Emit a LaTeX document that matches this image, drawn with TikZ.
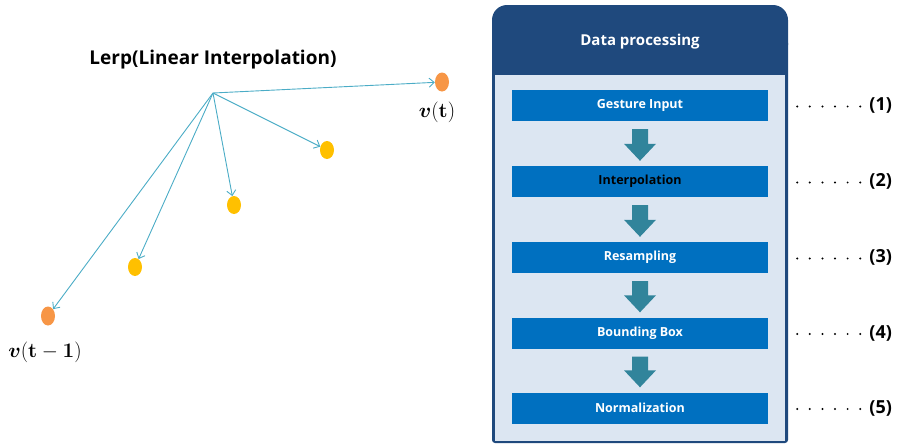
\documentclass[tikz,border=0pt]{standalone}
\usepackage{amsmath}
\usepackage[no-math]{fontspec}
\setmainfont{Open Sans}
\usetikzlibrary{arrows.meta,calc,shapes.geometric}

\definecolor{headblue}{HTML}{1F497D}
\definecolor{paneblue}{HTML}{DCE6F2}
\definecolor{stepblue}{HTML}{0070C0}
\definecolor{flowteal}{HTML}{31849B}
\definecolor{lerpline}{HTML}{4BACC6}
\definecolor{endorange}{HTML}{F79646}
\definecolor{midyellow}{HTML}{FFC000}

\tikzset{
  endpt/.style={ellipse,fill=endorange,minimum width=14pt,minimum height=19pt,inner sep=0pt},
  midpt/.style={ellipse,fill=midyellow,minimum width=14pt,minimum height=18pt,inner sep=0pt},
  lerp/.style={draw=lerpline,line width=0.9pt,-{Straight Barb[length=5pt,width=9pt,line width=0.9pt]}},
  mathlbl/.style={font=\fontsize{20}{24}\selectfont},
  stepbox/.style={fill=stepblue,minimum width=256pt,minimum height=31pt,inner sep=0pt,
                  text=white,font=\fontsize{12.5}{14}\selectfont\bfseries},
  leader/.style={draw=black,line width=2.2pt,line cap=round,dash pattern=on 0pt off 12.6pt},
  numlbl/.style={font=\fontsize{18}{21}\selectfont\bfseries,anchor=west,inner sep=0pt},
}

\newcommand{\flowarrow}[2]{%
  \fill[flowteal] ($(#1.south)+(-8,8)$) -- ($(#1.south)+(8,8)$) --
    ($(#2.north)+(8,-22)$) -- ($(#2.north)+(16,-22)$) -- ($(#2.north)+(0,-5)$) --
    ($(#2.north)+(-16,-22)$) -- ($(#2.north)+(-8,-22)$) -- cycle;}

\begin{document}
\begin{tikzpicture}[x=1pt,y=-1pt]
\useasboundingbox (0,0) rectangle (900,445);

% ---- linear interpolation sketch ----
\node[font=\fontsize{19}{22}\selectfont\bfseries] (title) at (213,60) {Lerp(Linear Interpolation)};
\coordinate (o) at (213,93);
\node[endpt] (vt)  at (442,82) {};
\node[midpt] (p1)  at (327,150) {};
\node[midpt] (p2)  at (234,205) {};
\node[midpt] (p3)  at (135,267) {};
\node[endpt] (vt1) at (48,316) {};
\draw[lerp] (o) -- (vt);
\draw[lerp] (o) -- (p1);
\draw[lerp] (o) -- (p2);
\draw[lerp] (o) -- (p3);
\draw[lerp] (o) -- (vt1);
\node[mathlbl] (lvt)  at (437,112) {$\boldsymbol{v}(\mathbf{t})$};
\node[mathlbl] (lvt1) at (45,352) {$\boldsymbol{v}(\mathbf{t}-\mathbf{1})$};

% ---- processing pipeline panel ----
\fill[headblue, rounded corners=15pt] (492,60) -- (492,5) -- (788,5) -- (788,60) -- cycle;
\fill[headblue, rounded corners=3pt] (492,40) rectangle (788,443);
\fill[paneblue] (495,75) rectangle (785,440.5);
\node[text=white,font=\fontsize{15}{18}\selectfont\bfseries] (head) at (640,42) {Data processing};

\node[stepbox] (s1) at (640,105.5) {Gesture Input};
\node[stepbox,text=black] (s2) at (640,181.5) {Interpolation};
\node[stepbox] (s3) at (640,257.5) {Resampling};
\node[stepbox] (s4) at (640,333) {Bounding Box};
\node[stepbox] (s5) at (640,408) {Normalization};

\flowarrow{s1}{s2}
\flowarrow{s2}{s3}
\flowarrow{s3}{s4}
\flowarrow{s4}{s5}

\foreach \i in {1,...,5}{
  \node[numlbl] (n\i) at ($(s\i.east)+(101,0)$) {(\i)};
  \draw[leader] ($(s\i.east)+(29,1)$) -- ($(n\i.west)+(-7,1)$);
}
\end{tikzpicture}
\end{document}
